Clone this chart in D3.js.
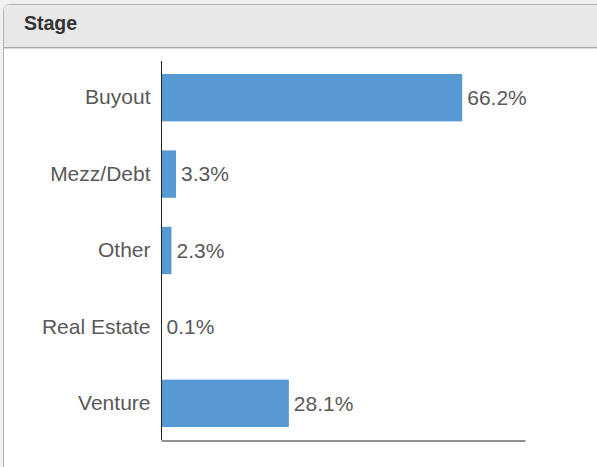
<!DOCTYPE html>
<html>
<head>
<meta charset="utf-8">
<script src="https://cdn.jsdelivr.net/npm/d3@7"></script>
<style>
html,body{margin:0;padding:0;background:#f0f0f0;}
svg{display:block;}
</style>
</head>
<body>
<svg id="chart" width="597" height="467"></svg>
<script>
const categories = ["Buyout", "Mezz/Debt", "Other", "Real Estate", "Venture"];
const values = [66.2, 3.3, 2.3, 0.1, 28.1];
const valueLabels = ["66.2%", "3.3%", "2.3%", "0.1%", "28.1%"];
const title = "Stage";

(function () {
const svg = d3.select("#chart");
const FONT = "Liberation Sans, Arial, sans-serif";

// panel
svg.append("rect").attr("x", 3.5).attr("y", 4.5).attr("width", 620).attr("height", 500)
  .attr("rx", 6).attr("fill", "#fff").attr("stroke", "#b0b0b0");
svg.append("path").attr("d", "M4,47 V10 Q4,5 9,5 H620 V47 Z").attr("fill", "#e8e8e8");
svg.append("line").attr("x1", 4).attr("x2", 620).attr("y1", 47.5).attr("y2", 47.5).attr("stroke", "#a8a8a8");
svg.append("line").attr("x1", 4).attr("x2", 620).attr("y1", 48.5).attr("y2", 48.5).attr("stroke", "#d8d8d8");
svg.append("text").attr("x", 24).attr("y", 30).text(title)
  .attr("font-family", FONT).attr("font-size", 19.5)
  .attr("font-weight", "bold").attr("fill", "#333");

const mLeft = 161, mRight = 525, mTop = 61, mBottom = 440;
const x = d3.scaleLinear().domain([0, 80]).range([mLeft, mRight]);
const y = d3.scaleBand().domain(categories).range([mTop, mBottom]).paddingInner(0.38).paddingOuter(0.17);

const g = svg.append("g");
g.selectAll("rect.bar").data(categories).enter().append("rect")
  .attr("class", "bar")
  .attr("x", x(0))
  .attr("y", d => y(d))
  .attr("height", y.bandwidth())
  .attr("width", (d, i) => Math.max(0, x(values[i]) - x(0)))
  .attr("fill", "#5799d2");

g.selectAll("text.val").data(categories).enter().append("text")
  .attr("class", "val")
  .attr("x", (d, i) => x(values[i]) + 5)
  .attr("y", d => y(d) + y.bandwidth() / 2)
  .attr("dy", "0.35em")
  .text((d, i) => valueLabels[i])
  .attr("font-family", FONT).attr("font-size", 21).attr("fill", "#595959");

const yAxis = d3.axisLeft(y).tickSize(0).tickPadding(11);
const ya = svg.append("g").attr("transform", `translate(${mLeft + 0.5},0)`).call(yAxis);
ya.select(".domain").attr("d", `M0,${mTop}V${mBottom}`).attr("stroke", "#222");
ya.selectAll("text").attr("font-family", FONT).attr("font-size", 21).attr("fill", "#595959");

const xAxis = d3.axisBottom(x).tickValues([]).tickSize(0);
const xa = svg.append("g").attr("transform", `translate(0,${mBottom + 0.5})`).call(xAxis);
xa.select(".domain").attr("stroke", "#222");
})();
</script>
</body>
</html>
